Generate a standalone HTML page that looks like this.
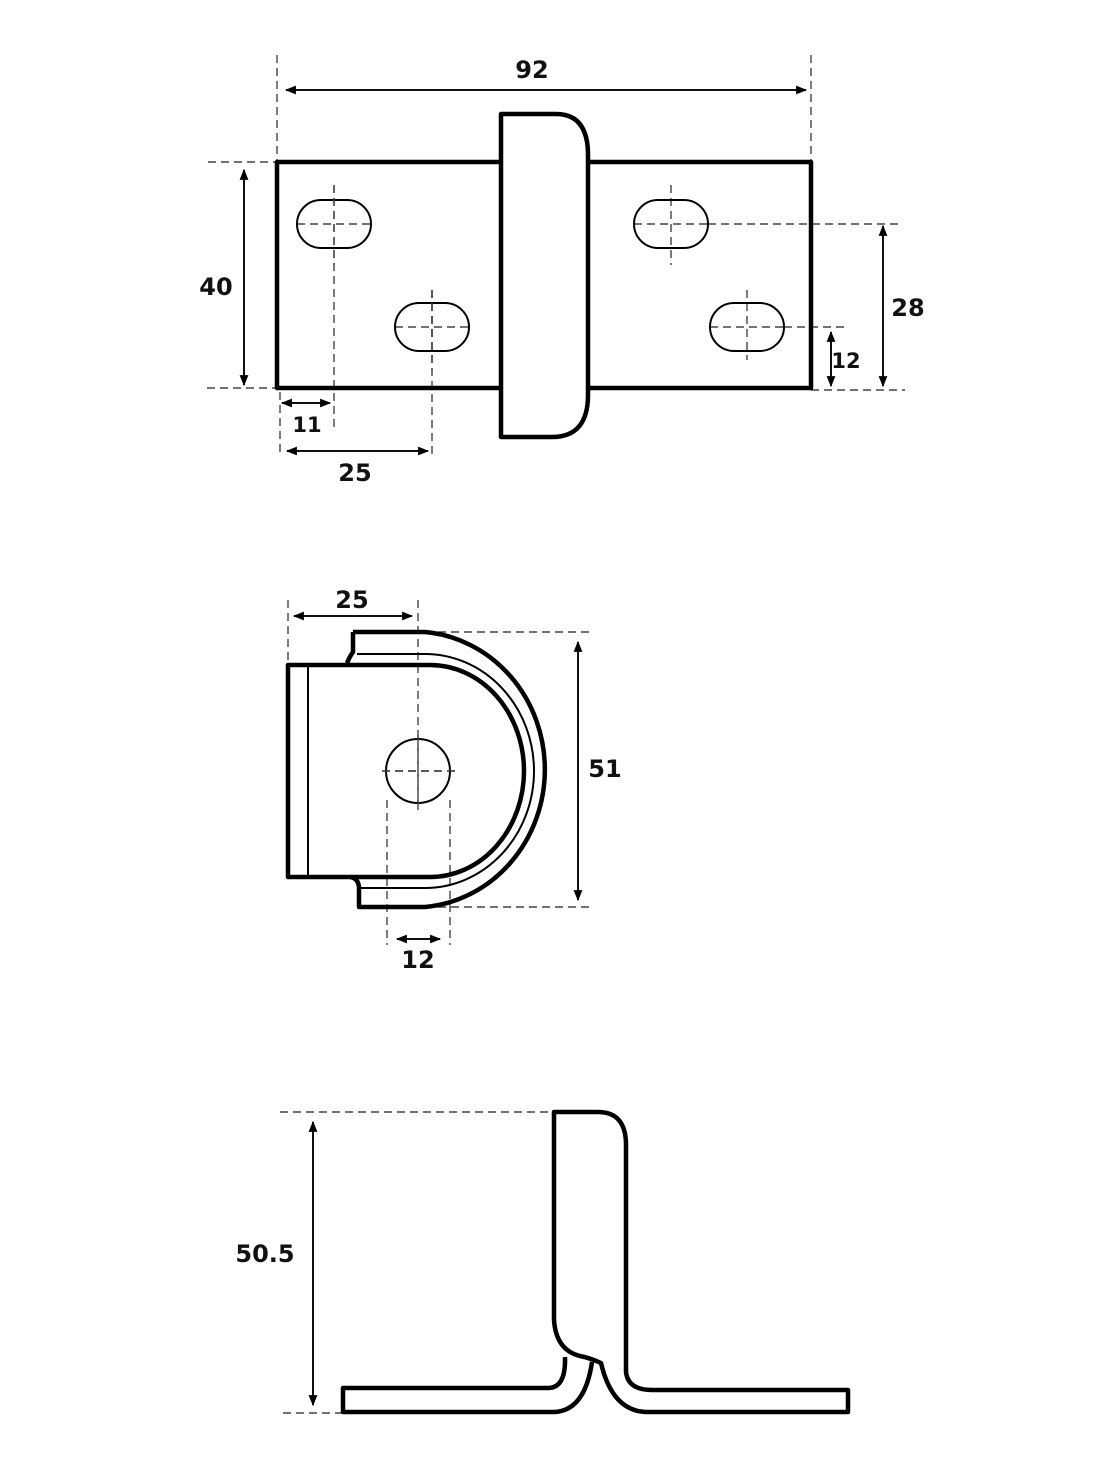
<!DOCTYPE html>
<html><head><meta charset="utf-8"><style>
html,body{margin:0;padding:0;background:#fff}
svg{display:block}
text{font-family:"DejaVu Sans","Liberation Sans",sans-serif;font-weight:bold;font-size:24px;fill:#111;text-anchor:middle}
.t{fill:none;stroke:#000;stroke-width:4.5;stroke-linejoin:round}
.n{fill:none;stroke:#000;stroke-width:2}
.d{fill:none;stroke:#444;stroke-width:1.4;stroke-dasharray:8 5}
.a{fill:none;stroke:#111;stroke-width:2}
</style></head><body>
<svg width="1104" height="1470" viewBox="0 0 1104 1470" xmlns="http://www.w3.org/2000/svg">
<defs>
<marker id="ar" viewBox="0 0 10 10" refX="9" refY="5" markerWidth="13" markerHeight="11" orient="auto-start-reverse" markerUnits="userSpaceOnUse"><path d="M0,1 L10,5 L0,9 Z" fill="#000"/></marker>
</defs>
<!-- TOP VIEW -->
<path class="d" d="M277,55 V390 M811,55 V160 M208,162 H277 M207,388 H277 M708,224 H900 M811,390 H905 M784,327 H845 M280,392 V455 M334,185 V430 M432,290 V455"/>
<path class="d" d="M297,224 H371 M395,327 H469 M634,224 H708 M710,327 H784 M671,185 V265 M747,290 V360 M432,290 V360"/>
<rect class="t" x="277" y="162" width="534" height="226"/>
<path d="M501,437 V114 H556 Q588,114 588,155 V395 Q588,437 552,437 Z" fill="#fff" stroke="#000" stroke-width="4.5" stroke-linejoin="round"/>
<rect class="n" x="297" y="200" width="74" height="48" rx="24"/>
<rect class="n" x="395" y="303" width="74" height="48" rx="24"/>
<rect class="n" x="634" y="200" width="74" height="48" rx="24"/>
<rect class="n" x="710" y="303" width="74" height="48" rx="24"/>
<path class="d" d="M334,185 V265 M432,290 V370"/>
<line class="a" x1="286" y1="90" x2="806" y2="90" marker-start="url(#ar)" marker-end="url(#ar)"/>
<text x="532" y="78">92</text>
<line class="a" x1="244" y1="170" x2="244" y2="385" marker-start="url(#ar)" marker-end="url(#ar)"/>
<text x="216" y="295">40</text>
<line class="a" x1="883" y1="226" x2="883" y2="386" marker-start="url(#ar)" marker-end="url(#ar)"/>
<text x="908" y="316">28</text>
<line class="a" x1="831" y1="332" x2="831" y2="386" marker-start="url(#ar)" marker-end="url(#ar)"/>
<text x="846" y="368" style="font-size:21px">12</text>
<line class="a" x1="282" y1="403" x2="330" y2="403" marker-start="url(#ar)" marker-end="url(#ar)"/>
<text x="307" y="432" style="font-size:21px">11</text>
<line class="a" x1="287" y1="451" x2="428" y2="451" marker-start="url(#ar)" marker-end="url(#ar)"/>
<text x="355" y="481">25</text>
<!-- MIDDLE VIEW -->
<path class="d" d="M288,600 V665 M418,600 V810 M425,632 H590 M425,907 H590 M387,800 V945 M450,800 V945 M382,771 H456"/>
<path class="t" d="M353,632 H425 A131,138 0 0 1 425,907 H359 V887 Q358,878 350,877"/>
<path class="t" d="M353,632 V652 Q350,656 347,663"/>
<path class="n" d="M357,654 H425 A109,117 0 0 1 425,888 H358"/>
<path class="t" d="M288,665 H430 A94,106 0 0 1 430,877 H288 Z"/>
<line class="n" x1="308" y1="665" x2="308" y2="877"/>
<circle class="n" cx="418" cy="771" r="32"/>
<path class="d" d="M382,771 H456 M418,735 V810"/>
<line class="a" x1="294" y1="616" x2="412" y2="616" marker-start="url(#ar)" marker-end="url(#ar)"/>
<text x="352" y="608">25</text>
<line class="a" x1="578" y1="642" x2="578" y2="900" marker-start="url(#ar)" marker-end="url(#ar)"/>
<text x="605" y="777">51</text>
<line class="a" x1="397" y1="939" x2="440" y2="939" marker-start="url(#ar)" marker-end="url(#ar)"/>
<text x="418" y="968">12</text>
<!-- BOTTOM VIEW -->
<path class="d" d="M280,1112 H555 M283,1413 H343"/>
<path class="t" d="M554,1320 V1112 H598 Q626,1112 626,1145 V1372 Q628,1390 652,1390 H848 V1412 H645 Q612,1410 601,1363 Q590,1358 580,1356 Q556,1350 554,1320"/>
<path class="t" d="M592,1362 Q585,1410 555,1412 H343 V1388 H548 Q566,1388 565,1357"/>
<line class="a" x1="313" y1="1122" x2="313" y2="1405" marker-start="url(#ar)" marker-end="url(#ar)"/>
<text x="265" y="1262">50.5</text>
</svg>
</body></html>
